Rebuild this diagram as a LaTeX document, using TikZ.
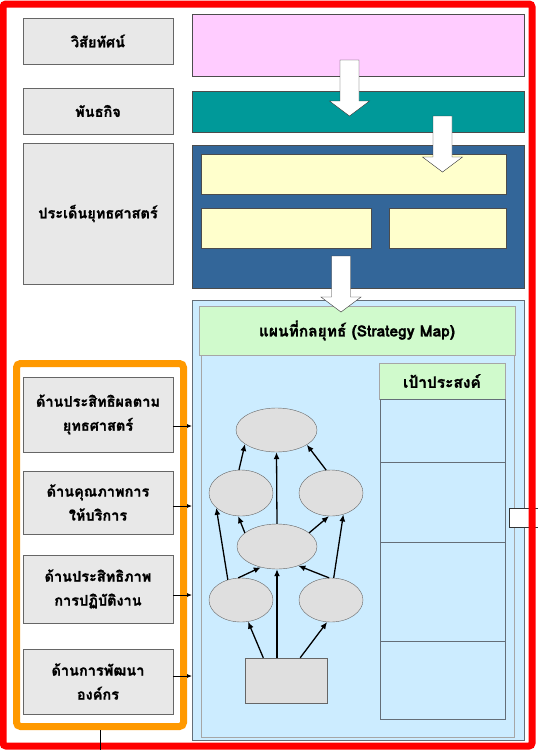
\documentclass[tikz,border=0pt]{standalone}
\usepackage{fontspec}
\newfontfamily\thai[Script=Thai, BoldFeatures={FakeBold=1.2}]{Loma}
\usetikzlibrary{shapes.geometric, arrows.meta}
\definecolor{visionpink}{RGB}{255,204,255}
\definecolor{missionteal}{RGB}{0,153,153}
\definecolor{issueblue}{RGB}{51,102,153}
\definecolor{issueyellow}{RGB}{255,255,204}
\definecolor{mapblue}{RGB}{204,236,255}
\definecolor{mapgreen}{RGB}{208,250,204}
\definecolor{edgegray}{RGB}{100,110,120}
\definecolor{persporange}{RGB}{255,153,0}
\tikzset{
    sidebox/.style={draw=gray!80!black, fill=gray!18, minimum width=150pt, align=center,
        font=\thai\bfseries\fontsize{14.5}{24}\selectfont},
    bandbox/.style={draw=black!70, minimum width=332pt},
    issuebox/.style={draw=black!70, fill=issueyellow, minimum height=40pt},
    aimbox/.style={draw=black!60, fill=gray!25, ellipse},
    headbox/.style={draw=gray!70, fill=mapgreen, font=\thai\bfseries\fontsize{15.5}{18}\selectfont},
}
\begin{document}
\begin{tikzpicture}[x=1pt, y=-1pt, >={Latex[length=7pt,width=6pt]}]
\useasboundingbox (0,0) rectangle (538,750);
% top rows
\node[sidebox, minimum height=46pt] (vision) at (98,41) {วิสัยทัศน์};
\node[sidebox, minimum height=46pt] (mission) at (98,111) {พันธกิจ};
\node[sidebox, minimum height=141pt] (issue) at (98,213.5) {ประเด็นยุทธศาสตร์};
\node[bandbox, fill=visionpink, minimum height=62pt] (visionband) at (358,45) {};
\node[bandbox, fill=missionteal, minimum height=41pt] (missionband) at (358,111.5) {};
\node[bandbox, fill=issueblue, minimum height=143pt] (issueband) at (358,216.5) {};
\node[issuebox, minimum width=305pt] (issueA) at (353.5,174) {};
\node[issuebox, minimum width=170pt] (issueB) at (286,228) {};
\node[issuebox, minimum width=117pt] (issueC) at (447.5,228) {};

% strategy map
\node[draw=edgegray, fill=mapblue, minimum width=332pt, minimum height=440pt] (map) at (358,520) {};
\node[draw=gray!70, fill=mapblue, minimum width=313pt, minimum height=382pt] (mapin) at (357.5,546) {};
\node[headbox, minimum width=316pt, minimum height=49pt] (maphead) at (357,330.5) {แผนที่กลยุทธ์ (Strategy Map)};
\node[headbox, minimum width=126pt, minimum height=36pt] (goalhead) at (442,381) {เป้าประสงค์};
\foreach \ya/\yb in {399/462,462/542,542/641,641/719}
{
    \draw[edgegray, fill=mapblue] (380,\ya) rectangle (505,\yb);
}
\draw[black!80, fill=white] (509,508) rectangle (545,527);

% perspectives
\node[draw=persporange, line width=7pt, rounded corners=4pt, minimum width=167pt, minimum height=363pt] (persp) at (100,545) {};
\node[sidebox, minimum height=75pt] (pA) at (98,414.5) {ด้านประสิทธิผลตาม\\ยุทธศาสตร์};
\node[sidebox, minimum height=63pt] (pB) at (98,502.5) {ด้านคุณภาพการ\\ให้บริการ};
\node[sidebox, minimum height=68pt] (pC) at (98,589) {ด้านประสิทธิภาพ\\การปฏิบัติงาน};
\node[sidebox, minimum height=65pt] (pD) at (98,681.5) {ด้านการพัฒนา\\องค์กร};
\coordinate (tA) at (192,426);
\coordinate (tB) at (192,506);
\coordinate (tC) at (192,595);
\coordinate (tD) at (192,676);
\foreach \p/\t in {pA/tA,pB/tB,pC/tC,pD/tD}
{
    \draw[-{Latex[length=5pt,width=4pt]}, thick] (\p.east |- \t)--(\t);
}

% objectives
\node[aimbox, minimum width=81pt, minimum height=44pt] (eTop) at (276.5,430) {};
\node[aimbox, minimum width=64pt, minimum height=46pt] (eML) at (241,493) {};
\node[aimbox, minimum width=64pt, minimum height=46pt] (eMR) at (331,493) {};
\node[aimbox, minimum width=80pt, minimum height=45pt] (eC) at (277,546.5) {};
\node[aimbox, minimum width=64pt, minimum height=44pt] (eLL) at (241,600) {};
\node[aimbox, minimum width=64pt, minimum height=44pt] (eLR) at (331,600) {};
\node[draw=black!60, fill=gray!25, minimum width=82pt, minimum height=45pt] (base) at (286,680.5) {};
\foreach \a/\b in {eML.95/eTop.204, eC.north/eTop.south, eMR.102/eTop.334,
    eC.157/eML.263, eC.23/eMR.265, eLL.123/eML.211, eLR.83/eMR.300,
    eLL.97/eC.232, eLR.95/eC.318, base.135/eLL.288, base.58/eLR.260}
{
    \draw[->, line width=1.3pt] (\a)--(\b);
}
\draw[->, line width=1.3pt] (eC.south |- base.north)--(eC.south);

% arrows down
\foreach \ax/\ay in {349.5/60,442.5/116,341/256}
{
    \draw[black!80, fill=white] (\ax-9.5,\ay)--(\ax+9.5,\ay)--(\ax+9.5,\ay+41)--(\ax+20,\ay+41)
        --(\ax,\ay+56)--(\ax-20,\ay+41)--(\ax-9.5,\ay+41)--cycle;
}

% frame
\draw[red, line width=7pt, rounded corners=3pt] (3,4) rectangle (532,746);
\coordinate (down) at (100,750);
\draw (persp.south)--(down);

\end{tikzpicture}
\end{document}
